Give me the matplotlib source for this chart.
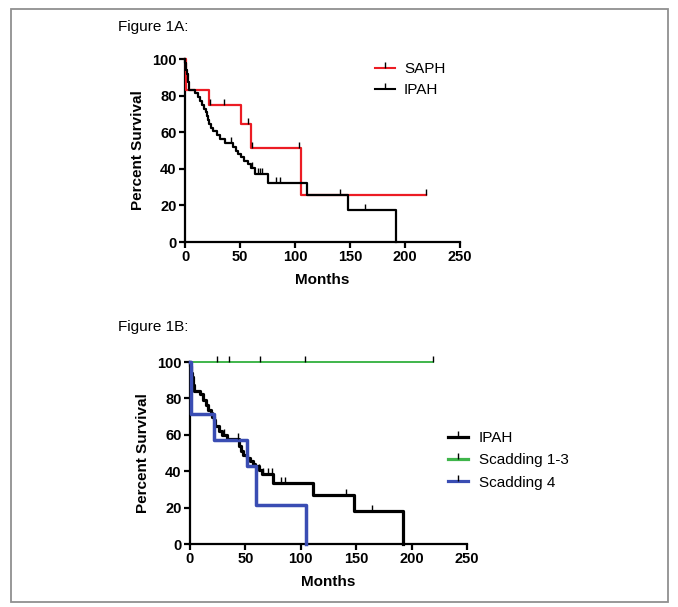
import numpy as np
import matplotlib
matplotlib.use("Agg")
import matplotlib.pyplot as plt
from matplotlib.lines import Line2D
from matplotlib.patches import Rectangle

plt.rcParams["font.family"] = ["Liberation Sans", "DejaVu Sans"]

# --- Figure 1A data (months, percent survival after each step) ---
saph_t = [0, 0.5, 1, 22, 51, 60, 105, 219]
saph_s = [100, 91.7, 83.3, 75.0, 64.3, 51.4, 25.7, 25.7]
saph_cens = [23, 35, 57, 61, 104, 219]

ipah_a_t = [0, 0.3, 0.8, 1.3, 2, 2.5, 3, 3.5, 4, 9, 12, 14, 15.5, 17, 19, 20, 21,
            22, 24, 25.5, 29, 32, 36, 44, 46, 48, 51, 54, 57, 60, 64, 75, 111, 148, 192]
ipah_a_s = [100, 97.9, 95.8, 93.8, 91.7, 89.6, 87.5, 85.4, 83.3, 81.3, 79.2, 77.1, 75.0,
            72.9, 70.8, 68.7, 66.7, 64.6, 62.5, 60.4, 58.3, 56.2, 54.2, 52.0, 50.0, 48.0,
            46.3, 44.5, 42.6, 40.7, 37.1, 32.4, 25.9, 17.3, 0]
ipah_a_cens = [42, 61, 66, 68, 70, 83, 86, 141, 164]

# --- Figure 1B data ---
ipah_b_t = [0, 0.3, 0.8, 1.3, 2, 2.5, 3, 3.5, 4, 9, 12, 14, 16, 19, 20, 21.5, 23,
            26, 29, 33, 44, 46, 48, 51, 54, 57, 59, 62, 65, 75, 111, 148, 192]
ipah_b_s = [100, 97.9, 95.8, 93.8, 91.7, 89.6, 87.5, 85.4, 83.9, 82.4, 79.0, 76.5,
            73.8, 72.0, 70.0, 68.0, 64.7, 62.0, 59.7, 57.7, 53.7, 51.0, 49.0, 47.0,
            45.8, 44.0, 42.7, 40.8, 38.6, 33.6, 26.9, 18.0, 0]
ipah_b_cens = [31, 43, 62, 66, 70, 74, 82, 86, 141, 164]

sc13_t = [0, 219]
sc13_s = [100, 100]
sc13_cens = [24.5, 35, 63, 104, 219]

sc4_t = [0, 0.6, 21.5, 51, 60, 105]
sc4_s = [100, 71.4, 57.1, 42.9, 21.4, 0]

RED = "#ec1c24"
GREEN = "#3fb54b"
BLUE = "#3a4db3"


def surv_at(t, times, surv):
    i = np.searchsorted(times, t, side="right") - 1
    return np.asarray(surv)[i]


def km(ax, times, surv, cens, color, lw):
    ax.step(times, surv, where="post", color=color, lw=lw, clip_on=False, zorder=3)
    if cens:
        cy = [surv_at(c, times, surv) for c in cens]
        ax.plot(cens, cy, ls="none", marker=2, ms=4.5, mew=1.0, mec="black",
                clip_on=False, zorder=4)


def style(ax):
    ax.set_xlim(0, 250)
    ax.set_ylim(0, 100)
    ax.set_xticks([0, 50, 100, 150, 200, 250])
    ax.set_yticks([0, 20, 40, 60, 80, 100])
    for s in ("top", "right"):
        ax.spines[s].set_visible(False)
    for s in ("left", "bottom"):
        ax.spines[s].set_linewidth(1.6)
    ax.tick_params(direction="out", length=4, width=1.6, labelsize=10.5, pad=2)
    for lab in ax.get_xticklabels() + ax.get_yticklabels():
        lab.set_fontweight("bold")
    ax.set_xlabel("Months", fontsize=11, fontweight="bold", labelpad=6)
    ax.set_ylabel("Percent Survival", fontsize=11, fontweight="bold", labelpad=5)


def handle(color, lw):
    return Line2D([], [], color=color, lw=lw, marker=2, ms=4, mew=1.0, mec="black")


W, H = 678, 607
fig = plt.figure(figsize=(W / 100, H / 100), dpi=100)

fig.patches.append(Rectangle((11 / W, 1 - 602 / H), 657 / W, 593 / H, transform=fig.transFigure,
                             fill=False, edgecolor="#909090", lw=1.3))

fig.text(118 / W, 1 - 27 / H, "Figure 1A:", fontsize=11, va="center", ha="left")
fig.text(118 / W, 1 - 327 / H, "Figure 1B:", fontsize=11, va="center", ha="left")

# Panel A
axA = fig.add_axes([185 / W, 1 - 242 / H, 275 / W, 183 / H])
km(axA, saph_t, saph_s, saph_cens, RED, 1.6)
km(axA, ipah_a_t, ipah_a_s, ipah_a_cens, "black", 1.6)
style(axA)
fig.legend([handle(RED, 1.5), handle("black", 1.5)], ["SAPH", "IPAH"],
           loc="upper left", bbox_to_anchor=(375 / W, 1 - 62 / H), frameon=False,
           fontsize=11, handlelength=1.3, handletextpad=0.6, borderpad=0,
           borderaxespad=0, labelspacing=0.45, numpoints=1)

# Panel B
axB = fig.add_axes([190 / W, 1 - 544 / H, 277 / W, 182 / H])
km(axB, sc13_t, sc13_s, sc13_cens, GREEN, 1.4)
km(axB, ipah_b_t, ipah_b_s, ipah_b_cens, "black", 2.3)
km(axB, sc4_t, sc4_s, [], BLUE, 2.5)
style(axB)
fig.legend([handle("black", 2.3), handle(GREEN, 2.3), handle(BLUE, 2.3)],
           ["IPAH", "Scadding 1-3", "Scadding 4"],
           loc="upper left", bbox_to_anchor=(448 / W, 1 - 431 / H), frameon=False,
           fontsize=11, handlelength=1.3, handletextpad=0.7, borderpad=0,
           borderaxespad=0, labelspacing=0.55, numpoints=1)

fig.savefig("out.png", dpi=100)
